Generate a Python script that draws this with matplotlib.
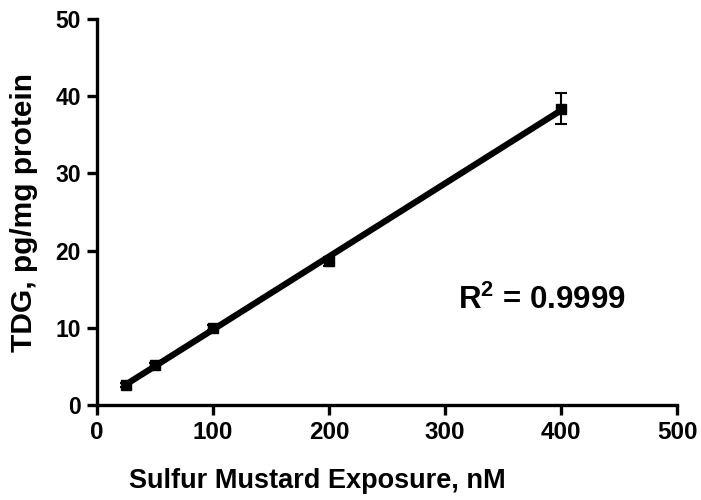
import numpy as np
import matplotlib
matplotlib.use("Agg")
import matplotlib.pyplot as plt

exposure = [25, 50, 100, 200, 400]
tdg = [2.6, 5.2, 10.0, 18.6, 38.4]
tdg_err = [0.3, 0.3, 0.3, 0.6, 2.0]
xticks = [0, 100, 200, 300, 400, 500]
yticks = [0, 10, 20, 30, 40, 50]

plt.rcParams['font.family'] = ['Liberation Sans', 'DejaVu Sans']
plt.rcParams['font.weight'] = 'bold'
plt.rcParams['mathtext.fontset'] = 'custom'
plt.rcParams['mathtext.bf'] = 'Liberation Sans:bold'
plt.rcParams['mathtext.rm'] = 'Liberation Sans:bold'

fig = plt.figure(figsize=(7.01, 5.0), dpi=100)
ax = fig.add_axes([0.138, 0.19, 0.828, 0.772])

slope, intercept = np.polyfit(exposure, tdg, 1)
xl = np.array([min(exposure), max(exposure)])
ax.plot(xl, slope * xl + intercept, color='black', lw=4.5, solid_capstyle='butt', zorder=2)
ax.errorbar(exposure, tdg, yerr=tdg_err, fmt='s', color='black', ms=7,
            elinewidth=1.5, capsize=4, capthick=1.5, zorder=3)

ax.set_xlim(0, 500)
ax.set_ylim(0, 50)
ax.set_xticks(xticks)
ax.set_yticks(yticks)
for s in ['top', 'right']:
    ax.spines[s].set_visible(False)
for s in ['left', 'bottom']:
    ax.spines[s].set_linewidth(2.4)
ax.tick_params(width=2.4, length=7.5, pad=4)
ax.tick_params(axis='x', labelsize=17.5)
ax.tick_params(axis='y', labelsize=16.5)
for lab in ax.get_xticklabels() + ax.get_yticklabels():
    lab.set_fontweight('bold')

ax.set_xlabel('Sulfur Mustard Exposure, nM', fontsize=19.5, fontweight='bold')
ax.xaxis.set_label_coords(0.38, -0.162)
ax.set_ylabel('TDG, pg/mg protein', fontsize=21.5, fontweight='bold', labelpad=12)
ax.text(311, 13.6, r'$\mathbf{R^2}$ = 0.9999', fontsize=22.5, fontweight='bold', ha='left', va='center')

fig.savefig('out.png', dpi=100)
